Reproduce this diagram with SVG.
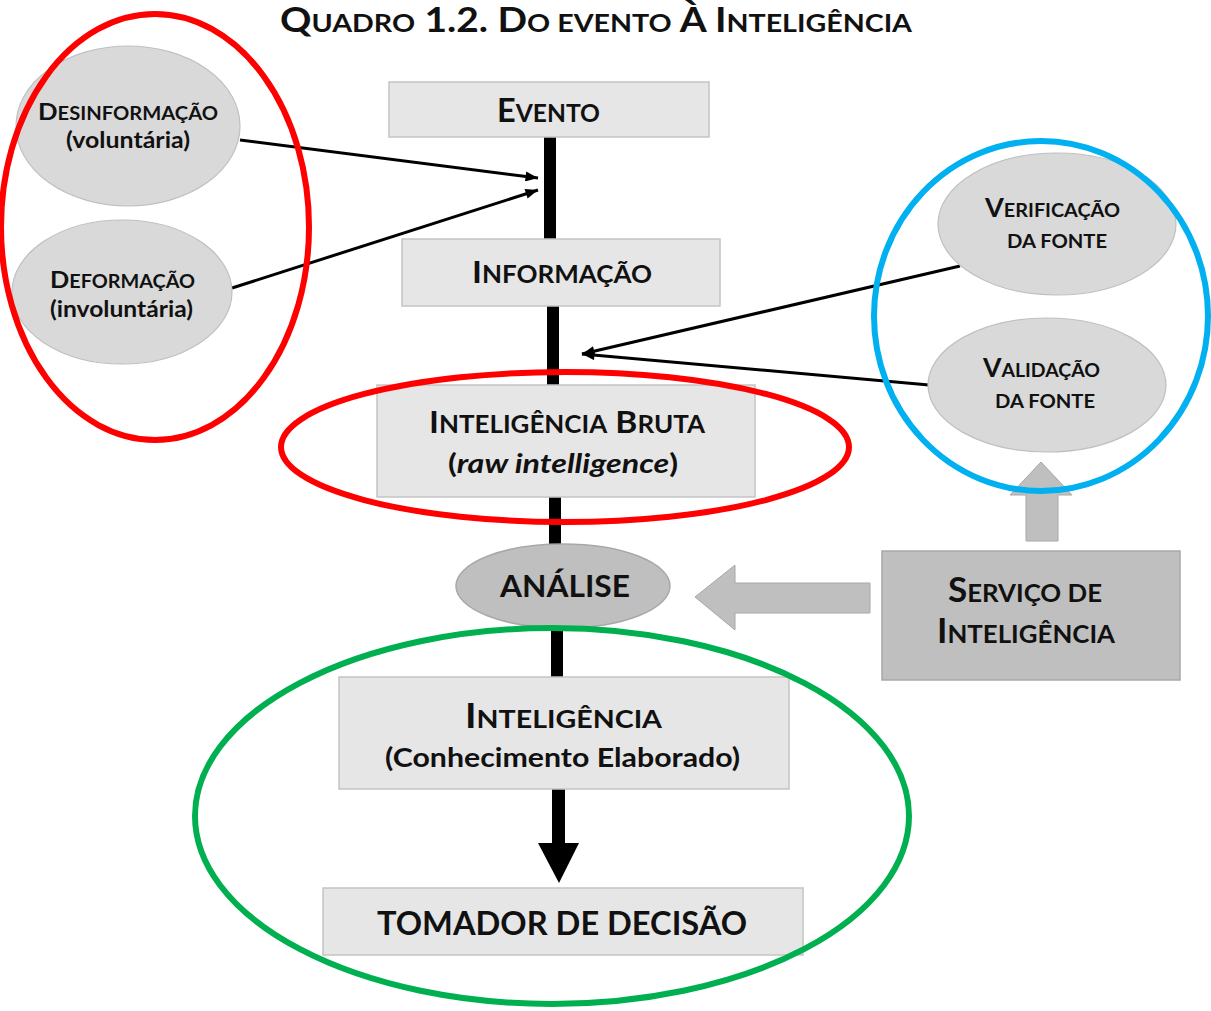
<svg xmlns="http://www.w3.org/2000/svg" width="1211" height="1011" viewBox="0 0 1211 1011">
<defs>
<style>
.t{font-family:Lato,"Open Sans","Liberation Sans",sans-serif;font-weight:bold;fill:#111}
.box{fill:#e6e6e6;stroke:#c4c4c4;stroke-width:1.5}
.ell{fill:#d9d9d9;stroke:#c0c0c0;stroke-width:1.2}
.dark{fill:#bfbfbf;stroke:#a8a8a8;stroke-width:1.5}
.thick{stroke:#000;stroke-width:12;fill:none}
.thin{stroke:#000;stroke-width:3;fill:none}
.hl{fill:none;stroke-width:6}
</style>
<marker id="ah" viewBox="0 0 10 8" refX="10" refY="4" markerWidth="14" markerHeight="10" markerUnits="userSpaceOnUse" orient="auto">
<path d="M0,0 L10,4 L0,8 z" fill="#000"/>
</marker>
</defs>
<rect width="1211" height="1011" fill="#fff"/>

<text class="t" x="280" y="32" textLength="632" lengthAdjust="spacingAndGlyphs" font-size="34">Q<tspan font-size="25">UADRO</tspan> 1.2. D<tspan font-size="25">O EVENTO</tspan> À I<tspan font-size="25">NTELIGÊNCIA</tspan></text>

<g id="connectors">
<line class="thick" x1="550" y1="137" x2="550" y2="240"/>
<line class="thick" x1="553" y1="306" x2="553" y2="386"/>
<line class="thick" x1="555" y1="497" x2="555" y2="546"/>
<line class="thick" x1="557" y1="627" x2="557" y2="678"/>
<path d="M552,789 L565,789 L565,843 L579,843 L559,883 L538,843 L552,843 Z" fill="#000"/>
<line class="thin" x1="240" y1="140" x2="538" y2="178" marker-end="url(#ah)"/>
<line class="thin" x1="232" y1="288" x2="538" y2="190" marker-end="url(#ah)"/>
<line class="thin" x1="960" y1="266" x2="582" y2="354" marker-end="url(#ah)"/>
<line class="thin" x1="929" y1="385" x2="582" y2="354" marker-end="url(#ah)"/>
<polygon points="870,583 735,583 735,565 695,597 735,630 735,613 870,613" fill="#bfbfbf" stroke="#a8a8a8" stroke-width="1"/>
<polygon points="1026,541 1026,495 1010,495 1041,462 1072,495 1058,495 1058,541" fill="#bfbfbf" stroke="#a8a8a8" stroke-width="1"/>
</g>

<g id="evento">
<rect class="box" x="389" y="82" width="320" height="55"/>
<text class="t" x="497" y="122" textLength="103" lengthAdjust="spacingAndGlyphs" font-size="33">E<tspan font-size="25">VENTO</tspan></text>
</g>
<g id="informacao">
<rect class="box" x="402" y="239" width="318" height="67"/>
<text class="t" x="472" y="283" textLength="180" lengthAdjust="spacingAndGlyphs" font-size="31">I<tspan font-size="24">NFORMAÇÃO</tspan></text>
</g>
<g id="inteligencia-bruta">
<rect class="box" x="377" y="385" width="378" height="112"/>
<text class="t" x="429" y="433" textLength="276" lengthAdjust="spacingAndGlyphs" font-size="31">I<tspan font-size="24">NTELIGÊNCIA</tspan> B<tspan font-size="24">RUTA</tspan></text>
<text class="t" x="448" y="473" textLength="230" lengthAdjust="spacingAndGlyphs" font-size="26">(<tspan font-style="italic">raw intelligence</tspan>)</text>
</g>
<g id="analise">
<ellipse class="dark" cx="563" cy="586" rx="107" ry="42"/>
<text class="t" x="500" y="597" textLength="130" lengthAdjust="spacingAndGlyphs" font-size="30">ANÁLISE</text>
</g>
<g id="inteligencia">
<rect class="box" x="339" y="677" width="450" height="112"/>
<text class="t" x="465" y="728" textLength="197" lengthAdjust="spacingAndGlyphs" font-size="34">I<tspan font-size="25">NTELIGÊNCIA</tspan></text>
<text class="t" x="385" y="767" textLength="355" lengthAdjust="spacingAndGlyphs" font-size="26">(Conhecimento Elaborado)</text>
</g>
<g id="tomador">
<rect class="box" x="323" y="888" width="480" height="67"/>
<text class="t" x="377" y="935" textLength="370" lengthAdjust="spacingAndGlyphs" font-size="32">TOMADOR DE DECISÃO</text>
</g>
<g id="servico">
<rect class="dark" x="882" y="551" width="298" height="129"/>
<text class="t" x="948" y="602" textLength="154" lengthAdjust="spacingAndGlyphs" font-size="34">S<tspan font-size="25">ERVIÇO DE</tspan></text>
<text class="t" x="937" y="643" textLength="178" lengthAdjust="spacingAndGlyphs" font-size="34">I<tspan font-size="25">NTELIGÊNCIA</tspan></text>
</g>
<g id="desinformacao">
<ellipse class="ell" cx="128" cy="126" rx="112" ry="80"/>
<text class="t" x="38" y="120" textLength="180" lengthAdjust="spacingAndGlyphs" font-size="23">D<tspan font-size="18">ESINFORMAÇÃO</tspan></text>
<text class="t" x="66" y="148" textLength="124" lengthAdjust="spacingAndGlyphs" font-size="22">(voluntária)</text>
</g>
<g id="deformacao">
<ellipse class="ell" cx="122" cy="292" rx="110" ry="72"/>
<text class="t" x="50" y="288" textLength="145" lengthAdjust="spacingAndGlyphs" font-size="23">D<tspan font-size="18">EFORMAÇÃO</tspan></text>
<text class="t" x="50" y="317" textLength="143" lengthAdjust="spacingAndGlyphs" font-size="22">(involuntária)</text>
</g>
<g id="verificacao">
<ellipse class="ell" cx="1057" cy="224" rx="119" ry="71"/>
<text class="t" x="985" y="217" textLength="135" lengthAdjust="spacingAndGlyphs" font-size="26">V<tspan font-size="19">ERIFICAÇÃO</tspan></text>
<text class="t" x="1007" y="248" textLength="100" lengthAdjust="spacingAndGlyphs" font-size="19">DA FONTE</text>
</g>
<g id="validacao">
<ellipse class="ell" cx="1047" cy="385" rx="119" ry="67"/>
<text class="t" x="983" y="377" textLength="117" lengthAdjust="spacingAndGlyphs" font-size="26">V<tspan font-size="19">ALIDAÇÃO</tspan></text>
<text class="t" x="995" y="408" textLength="100" lengthAdjust="spacingAndGlyphs" font-size="19">DA FONTE</text>
</g>

<g id="highlights">
<ellipse class="hl" stroke="#ff0000" cx="155" cy="227" rx="154" ry="213"/>
<ellipse class="hl" stroke="#ff0000" cx="565" cy="447" rx="284" ry="75"/>
<ellipse class="hl" stroke="#00b0f0" cx="1041" cy="316" rx="167" ry="175"/>
<ellipse class="hl" stroke="#00b050" cx="552" cy="816" rx="357" ry="188"/>
</g>
</svg>
